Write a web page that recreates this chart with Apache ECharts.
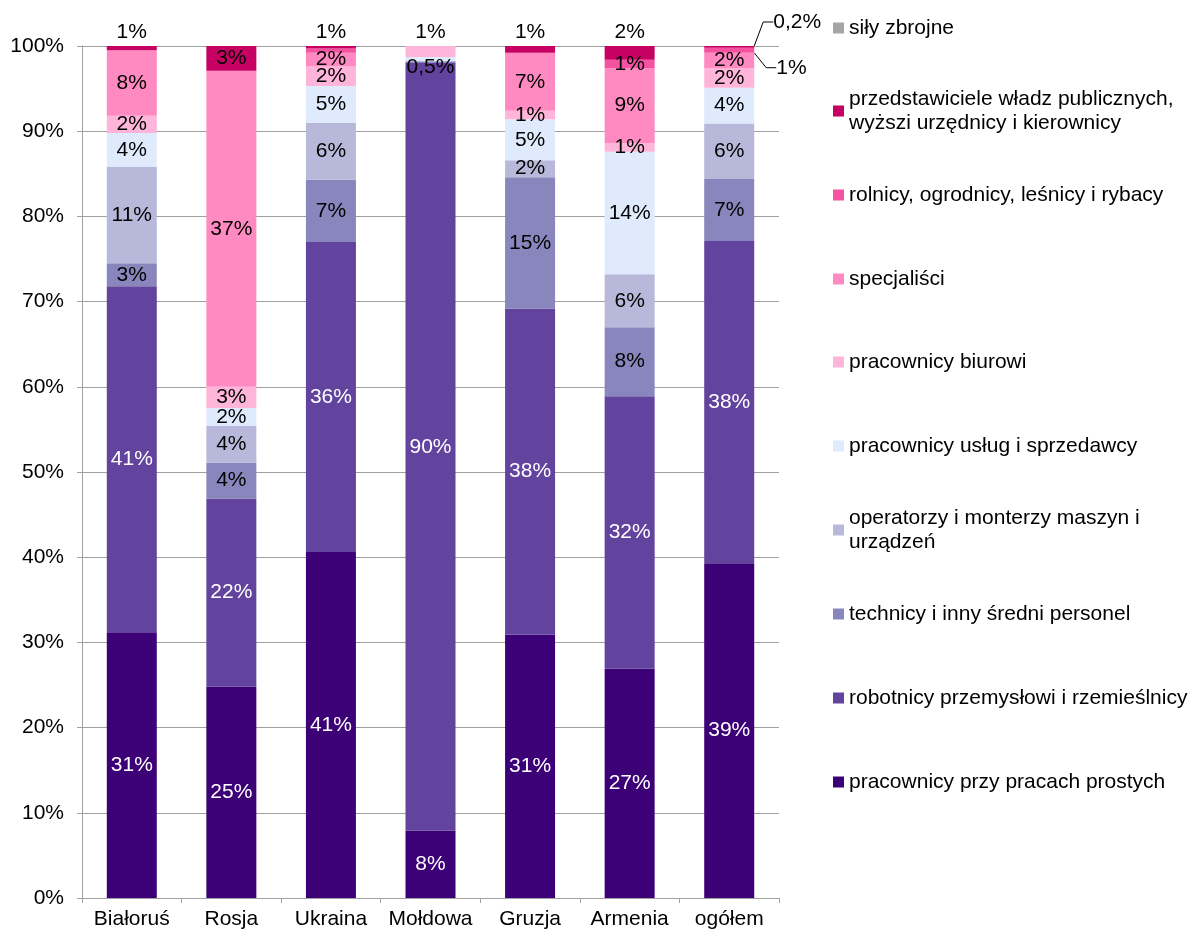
<!DOCTYPE html>
<html><head><meta charset="utf-8">
<script src="https://cdn.jsdelivr.net/npm/echarts@6/dist/echarts.min.js"></script>
<style>html,body{margin:0;padding:0;background:#fff}#c{width:1195px;height:936px}</style>
</head><body><div id="c"></div>
<script>
// ---- data (categories left to right) ----
const categories = ['Białoruś','Rosja','Ukraina','Mołdowa','Gruzja','Armenia','ogółem'];

// series from bottom of stack to top
const prostych      = [31.2, 24.8, 40.6,  7.9, 30.9, 26.9, 39.3];
const robotnicy     = [40.6, 22.1, 36.4, 90.1, 38.3, 32.0, 37.8];
const technicy      = [ 2.7,  4.2,  7.3,  0.2, 15.4,  8.1,  7.3];
const operatorzy    = [11.3,  4.3,  6.7,  0.0,  2.0,  6.2,  6.5];
const uslugi        = [ 4.0,  2.1,  4.3,  0.5,  4.8, 14.4,  4.2];
const biurowi       = [ 2.0,  2.5,  2.3,  1.3,  1.0,  1.0,  2.3];
const specjalisci   = [ 7.7, 37.1,  1.6,  0.0,  6.8,  8.8,  1.8];
const rolnicy       = [ 0.0,  0.0,  0.5,  0.0,  0.0,  1.0,  0.6];
const przedstaw     = [ 0.5,  2.9,  0.3,  0.0,  0.8,  1.6,  0.2];
const silyZbrojne   = [ 0.0,  0.0,  0.0,  0.0,  0.0,  0.0,  0.0];

// data label texts
const labProstych    = ['31%','25%','41%','8%','31%','27%','39%'];
const labRobotnicy   = ['41%','22%','36%','90%','38%','32%','38%'];
const labTechnicy    = ['3%','4%','7%','','15%','8%','7%'];
const labOperatorzy  = ['11%','4%','6%','','2%','6%','6%'];
const labUslugi      = ['4%','2%','5%','0,5%','5%','14%','4%'];
const labBiurowi     = ['2%','3%','2%','1%','1%','1%','2%'];
const labSpecjalisci = ['8%','37%','2%','','7%','9%','2%'];
const labRolnicy     = ['','','','','','1%','1%'];
const labPrzedstaw   = ['1%','3%','1%','','1%','2%','0,2%'];
const labSily        = ['','','','','','',''];

const yTicks = [0,10,20,30,40,50,60,70,80,90,100];

// ---- names ----
const N = {
  sily: 'siły zbrojne',
  przed: 'przedstawiciele władz publicznych, wyżsi urzędnicy i kierownicy',
  roln: 'rolnicy, ogrodnicy, leśnicy i rybacy',
  spec: 'specjaliści',
  biur: 'pracownicy biurowi',
  usl: 'pracownicy usług i sprzedawcy',
  oper: 'operatorzy i monterzy maszyn i urządzeń',
  tech: 'technicy i inny średni personel',
  robo: 'robotnicy przemysłowi i rzemieślnicy',
  pros: 'pracownicy przy pracach prostych'
};
const legendText = {};
legendText[N.przed] = 'przedstawiciele władz publicznych,\nwyższi urzędnicy i kierownicy';
legendText[N.oper] = 'operatorzy i monterzy maszyn i\nurządzeń';

const FONT = "'Liberation Sans', Arial, sans-serif";

const defs = [
  {name: N.pros, v: prostych, l: labProstych, c: '#3c0077', lc: '#ffffff'},
  {name: N.robo, v: robotnicy, l: labRobotnicy, c: '#62439d', lc: '#ffffff'},
  {name: N.tech, v: technicy, l: labTechnicy, c: '#8986bd', lc: '#000000'},
  {name: N.oper, v: operatorzy, l: labOperatorzy, c: '#b8b8da', lc: '#000000'},
  {name: N.usl, v: uslugi, l: labUslugi, c: '#dfeafc', lc: '#000000'},
  {name: N.biur, v: biurowi, l: labBiurowi, c: '#ffb5d9', lc: '#000000'},
  {name: N.spec, v: specjalisci, l: labSpecjalisci, c: '#ff8ac1', lc: '#000000'},
  {name: N.roln, v: rolnicy, l: labRolnicy, c: '#f552a2', lc: '#000000'},
  {name: N.przed, v: przedstaw, l: labPrzedstaw, c: '#c70063', lc: '#000000'},
  {name: N.sily, v: silyZbrojne, l: labSily, c: '#a5a5a5', lc: '#000000'}
];

// label placement rules (layout, not data)
const aboveBar = {};
aboveBar[N.przed] = [0, 2, 4, 5];
aboveBar[N.biur] = [3];
const shifted = {};
shifted[N.usl] = {3: 8};
const leader = {};
leader[N.przed] = {6: 'diag'};
leader[N.roln] = {6: 'ell'};

const series = defs.map(d => ({
  name: d.name,
  type: 'bar',
  stack: 'total',
  barWidth: 50,
  itemStyle: {color: d.c},
  emphasis: {disabled: true},
  label: {show: true, color: d.lc, fontSize: 21, fontFamily: FONT, textBorderWidth: 0, lineHeight: 24},
  data: d.v.map((val, i) => {
    const item = {value: val, label: {show: !!d.l[i], formatter: d.l[i] || ' '}};
    if (aboveBar[d.name] && aboveBar[d.name].indexOf(i) >= 0) {
      item.label.position = 'top';
      item.label.distance = 2;
      item.label.color = '#000000';
    }
    if (leader[d.name] && leader[d.name][i]) {
      item.labelLine = {show: true, length2: 10, lineStyle: {color: '#000000', width: 1}};
    }
    return item;
  }),
  labelLayout: function (p) {
    if (shifted[d.name] && shifted[d.name][p.dataIndex]) {
      return {dy: shifted[d.name][p.dataIndex]};
    }
    const kind = leader[d.name] && leader[d.name][p.dataIndex];
    if (!kind) return {};
    const r = p.rect;
    const right = r.x + r.width;
    if (kind === 'diag') {
      return {x: right + 19, y: r.y - 24, align: 'left', verticalAlign: 'middle',
        labelLinePoints: [[r.x + r.width / 2 + 5, r.y], [right - 1, r.y - 24], [right + 9, r.y - 24]]};
    }
    return {x: right + 22, y: r.y + 20, align: 'left', verticalAlign: 'middle',
      labelLinePoints: [[right + 2, r.y + 8], [right + 2, r.y + 19], [right + 14, r.y + 19]]};
  }
}));

// legend: top-to-bottom order is reverse of stack
const legendCenters = [28, 111, 195, 279, 362, 446, 530, 614, 698, 782];
const legendOrder = defs.slice().reverse().map(d => d.name);
const legends = legendOrder.map((name, k) => {
  const twoLine = !!legendText[name];
  return {
    data: [name],
    left: 833,
    top: legendCenters[k] - (twoLine ? 36 : 12),
    orient: 'vertical',
    padding: 0,
    itemWidth: 11,
    itemHeight: 11,
    icon: 'rect',
    selectedMode: false,
    formatter: () => legendText[name] || name,
    textStyle: {fontSize: 21, fontFamily: FONT, color: '#000000', lineHeight: 24,
      padding: twoLine ? [24, 0, 0, 0] : 0}
  };
});

const chart = echarts.init(document.getElementById('c'), null, {renderer: 'canvas'});
chart.setOption({
  animation: false,
  backgroundColor: '#ffffff',
  textStyle: {fontFamily: FONT},
  grid: {left: 82, right: 416, top: 46, bottom: 38, containLabel: false},
  legend: legends,
  xAxis: {
    type: 'category',
    data: categories,
    axisLine: {show: true, lineStyle: {color: '#a0a0a0', width: 1}},
    axisTick: {show: true, length: 5, lineStyle: {color: '#a0a0a0'}},
    axisLabel: {interval: 0, hideOverlap: false, fontSize: 21, fontFamily: FONT, color: '#000000', margin: 11}
  },
  yAxis: {
    type: 'value',
    min: yTicks[0],
    max: yTicks[yTicks.length - 1],
    interval: yTicks[1] - yTicks[0],
    axisLine: {show: true, lineStyle: {color: '#a0a0a0', width: 1}},
    axisTick: {show: true, length: 5, lineStyle: {color: '#a0a0a0'}},
    splitLine: {show: true, lineStyle: {color: '#a0a0a0', width: 1}},
    axisLabel: {fontSize: 21, fontFamily: FONT, color: '#000000', margin: 18, formatter: v => v + '%'}
  },
  series: series
});
</script>
</body></html>
